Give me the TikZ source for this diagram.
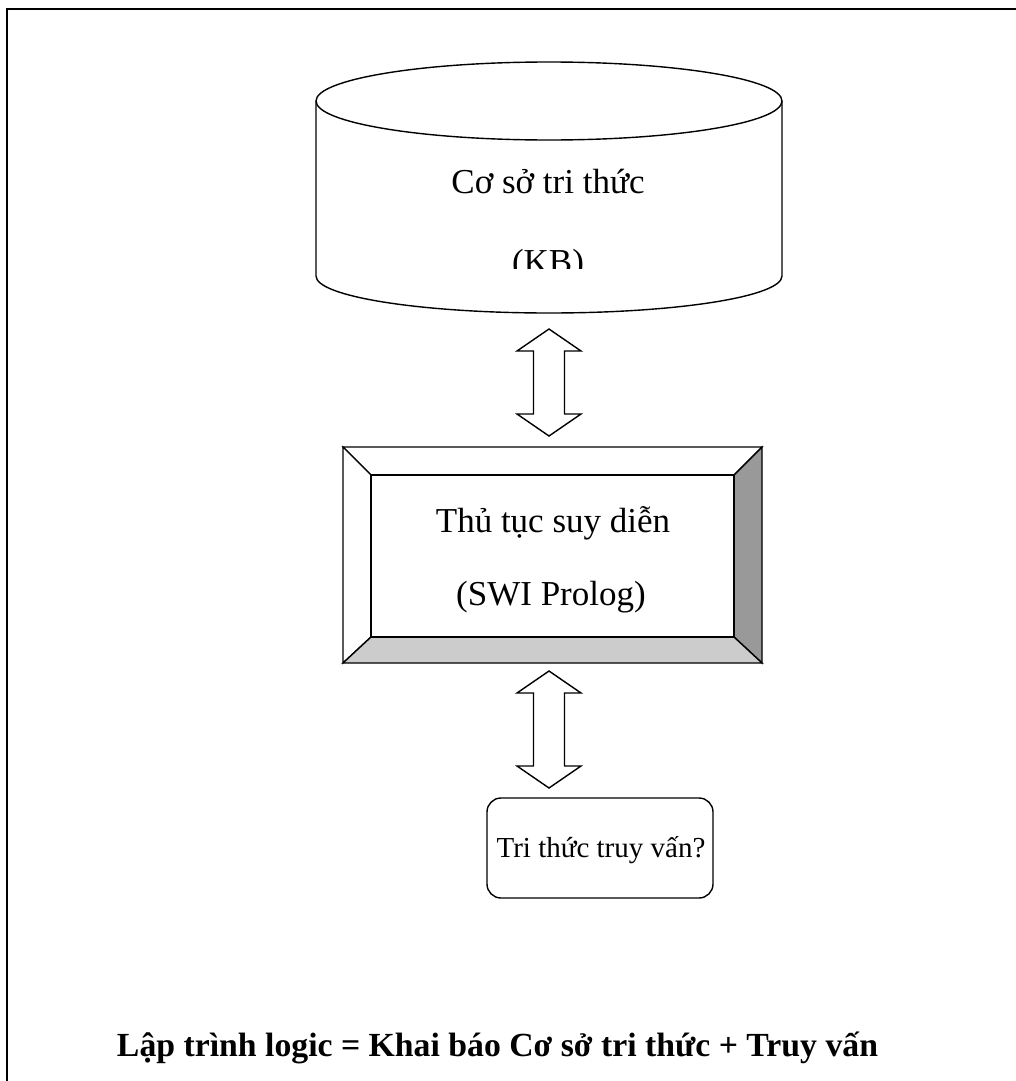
\documentclass[tikz,border=0pt]{standalone}
\usepackage{fontspec}
\setmainfont{Liberation Serif}
\usetikzlibrary{calc}

\definecolor{bevelright}{HTML}{999999}
\definecolor{bevelbottom}{HTML}{CCCCCC}

\tikzset{
  shapeline/.style={line width=1.4pt, draw=black},
  bodytext/.style={font=\fontsize{35}{42}\selectfont, inner sep=0pt, anchor=base},
  smalltext/.style={font=\fontsize{29}{35}\selectfont, inner sep=0pt, anchor=base},
  blockarrow/.style={shapeline, fill=white, line join=miter},
}

\begin{document}
\begin{tikzpicture}[x=1pt, y=-1pt]
  \useasboundingbox (0,0) rectangle (1016,1081);

  % open frame: left and top edges only
  \draw[line width=2.4pt] (7,1081) -- (7,9) -- (1016,9);

  % knowledge base cylinder
  \node[minimum width=466, minimum height=175, inner sep=0pt, outer sep=0pt]
    (kb) at (549,188.5) {};
  \draw[shapeline] (kb.north west) -- (kb.south west)
    arc[start angle=180, end angle=360, x radius=233pt, y radius=37pt]
    -- (kb.north east);
  \draw[shapeline, fill=white] (kb.north) ellipse[x radius=233pt, y radius=39pt];
  \node[bodytext] (kbtitle) at (548,193) {Cơ sở tri thức};
  \begin{scope}
    \clip (kb.west |- 0,230) rectangle (kb.east |- 0,268);
    \node[bodytext] (kbabbr) at (548,273) {(KB)};
  \end{scope}

  % inference engine: bevelled box
  \node[minimum width=419, minimum height=216, inner sep=0pt, outer sep=0pt]
    (inf) at (552.5,555) {};
  \coordinate (iNW) at (371,475);
  \coordinate (iNE) at (734,475);
  \coordinate (iSW) at (371,637);
  \coordinate (iSE) at (734,637);
  \draw[shapeline, fill=white] (inf.north west) -- (inf.north east) -- (iNE) -- (iNW) -- cycle;
  \draw[shapeline, fill=white] (inf.north west) -- (iNW) -- (iSW) -- (inf.south west) -- cycle;
  \draw[shapeline, fill=bevelright] (inf.north east) -- (inf.south east) -- (iSE) -- (iNE) -- cycle;
  \draw[shapeline, fill=bevelbottom] (inf.south west) -- (inf.south east) -- (iSE) -- (iSW) -- cycle;
  \draw[shapeline, fill=white] (iNW) rectangle (iSE);
  \node[bodytext] (inftitle) at (553,532) {Thủ tục suy diễn};
  \node[bodytext] (infsub) at (551,605) {(SWI Prolog)};

  % query box
  \node[shapeline, rounded corners=14pt, minimum width=226, minimum height=100,
        inner sep=0pt, outer sep=0pt] (query) at (600,848) {};
  \node[smalltext] (querytext) at (601,857) {Tri thức truy vấn?};

  % two-way block arrows between the components
  \coordinate (a1t) at (549,329);
  \coordinate (a1b) at (549,436);
  \coordinate (a2t) at (549,671);
  \coordinate (a2b) at (549,788);
  \foreach \t/\b in {a1t/a1b, a2t/a2b} {
    \draw[blockarrow] (\t) -- ($(\t)+(32,22)$) -- ($(\t)+(15.5,22)$)
      -- ($(\b)+(15.5,-22)$) -- ($(\b)+(32,-22)$) -- (\b)
      -- ($(\b)+(-32,-22)$) -- ($(\b)+(-15.5,-22)$)
      -- ($(\t)+(-15.5,22)$) -- ($(\t)+(-32,22)$) -- cycle;
  }

  % caption
  \node[inner sep=0pt, anchor=base] (caption) at (497.5,1056)
    {\resizebox{761pt}{!}{\fontsize{31}{36}\selectfont\bfseries Lập trình logic = Khai báo Cơ sở tri thức + Truy vấn}};
\end{tikzpicture}
\end{document}
